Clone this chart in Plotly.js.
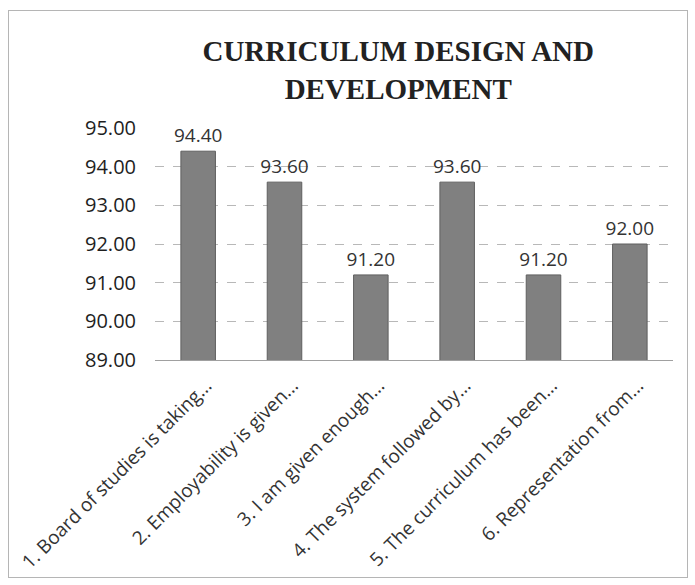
<!DOCTYPE html>
<html>
<head>
<meta charset="utf-8">
<script src="https://cdn.plot.ly/plotly-3.0.1.min.js"></script>
<style>
  html, body { margin: 0; padding: 0; background: #fff; }
  #frame { position: absolute; left: 8px; top: 10px; width: 680px; height: 568px; border: 1px solid #b5b5b5; box-sizing: border-box; }
  #chart { position: absolute; left: 0; top: 0; width: 695px; height: 585px; }
</style>
</head>
<body>
<div id="frame"></div>
<div id="chart"></div>
<script>
const categories = [
  "1. Board of studies is taking...",
  "2. Employability is given...",
  "3. I am given enough...",
  "4. The system followed by...",
  "5. The curriculum has been...",
  "6. Representation from..."
];
const scores = [94.40, 93.60, 91.20, 93.60, 91.20, 92.00];
const yTicks = [89, 90, 91, 92, 93, 94, 95];
const yTickLabels = ["89.00", "90.00", "91.00", "92.00", "93.00", "94.00", "95.00"];

const trace = {
  type: 'bar',
  x: categories,
  y: scores,
  marker: { color: '#808080', line: { color: '#5f5f5f', width: 1 } },
  text: scores.map(v => v.toFixed(2)),
  textposition: 'outside',
  constraintext: 'none',
  cliponaxis: false,
  textfont: { family: 'Open Sans, Liberation Sans, sans-serif', size: 19, color: '#333' },
  hoverinfo: 'none'
};

const layout = {
  width: 695, height: 585,
  paper_bgcolor: 'rgba(0,0,0,0)',
  plot_bgcolor: 'rgba(0,0,0,0)',
  margin: { l: 155, r: 22, t: 128, b: 225 },
  bargap: 0.6,
  showlegend: false,
  title: {
    text: 'CURRICULUM DESIGN AND<br>DEVELOPMENT',
    font: { family: 'Liberation Serif, Times New Roman, serif', size: 29, color: '#222', weight: 'bold' },
    x: 0.573, xanchor: 'center', y: 0.895, yanchor: 'top'
  },
  xaxis: {
    tickangle: -45,
    tickfont: { family: 'Open Sans, Liberation Sans, sans-serif', size: 19, color: '#333' },
    showline: true, linecolor: '#a0a0a0', linewidth: 1,
    ticks: '', showgrid: false,
    ticklabelshift: 8, ticklabelstandoff: 6
  },
  yaxis: {
    range: [89, 95],
    tickvals: yTicks,
    ticktext: yTickLabels,
    tickfont: { family: 'Open Sans, Liberation Sans, sans-serif', size: 20, color: '#1e1e1e' },
    showgrid: true, gridcolor: '#b8b8b8', griddash: 'dash', gridwidth: 1,
    zeroline: false, showline: false, ticks: '', ticklen: 0,
    ticklabelstandoff: 18
  }
};

Plotly.newPlot('chart', [trace], layout, { displayModeBar: false, staticPlot: true });
</script>
</body>
</html>
